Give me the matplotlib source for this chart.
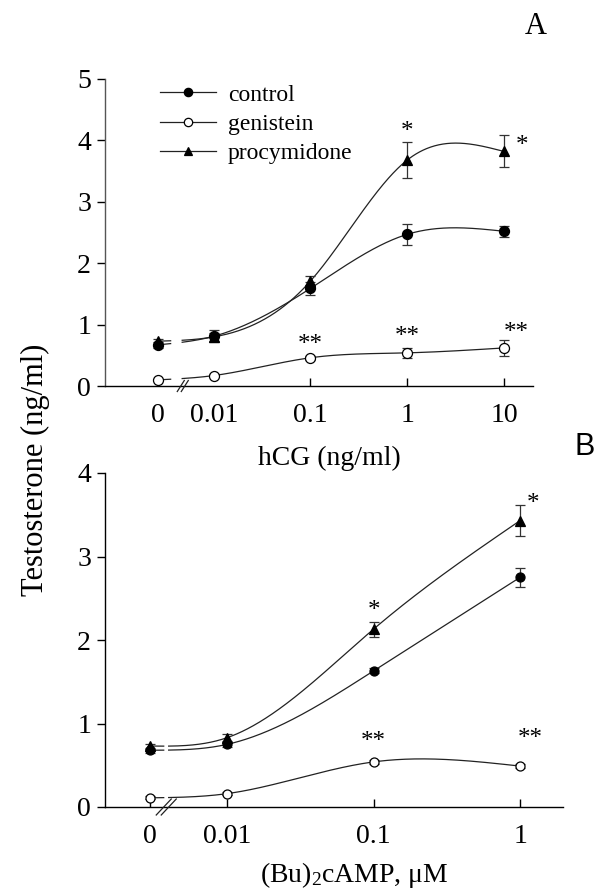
import numpy as np
import matplotlib
matplotlib.use("Agg")
import matplotlib.pyplot as plt
from matplotlib.lines import Line2D

plt.rcParams['font.family'] = ['Liberation Serif', 'DejaVu Serif']
plt.rcParams['mathtext.fontset'] = 'custom'
plt.rcParams['mathtext.rm'] = 'Liberation Serif'
plt.rcParams['mathtext.it'] = 'Liberation Serif:italic'

# ---------------- data ----------------
series_names = ['control', 'genistein', 'procymidone']

doses_A = [0, 0.01, 0.1, 1, 10]
ticklabels_A = ['0', '0.01', '0.1', '1', '10']
control_A = [0.67, 0.81, 1.59, 2.47, 2.52]
control_A_err = [0.05, 0.10, 0.10, 0.17, 0.09]
genistein_A = [0.10, 0.17, 0.46, 0.54, 0.62]
genistein_A_err = [0.02, 0.03, 0.03, 0.08, 0.13]
procymidone_A = [0.73, 0.80, 1.71, 3.68, 3.82]
procymidone_A_err = [0.04, 0.06, 0.08, 0.29, 0.26]

doses_B = [0, 0.01, 0.1, 1]
ticklabels_B = ['0', '0.01', '0.1', '1']
control_B = [0.68, 0.75, 1.63, 2.75]
control_B_err = [0.03, 0.03, 0.03, 0.11]
genistein_B = [0.11, 0.16, 0.54, 0.49]
genistein_B_err = [0.02, 0.02, 0.02, 0.02]
procymidone_B = [0.73, 0.83, 2.13, 3.43]
procymidone_B_err = [0.03, 0.04, 0.09, 0.19]

# significance marks: (text, dose, series)
stars_A = [('*', 1, 'procymidone'), ('*', 10, 'procymidone'),
           ('**', 0.1, 'genistein'), ('**', 1, 'genistein'), ('**', 10, 'genistein')]
stars_B = [('*', 0.1, 'procymidone'), ('*', 1, 'procymidone'),
           ('**', 0.1, 'genistein'), ('**', 1, 'genistein')]

# ---------------- helpers ----------------
def positions(doses, zero_pos):
    d = np.asarray(doses, dtype=float)
    p = np.full(d.shape, zero_pos)
    nz = d > 0
    p[nz] = np.log10(d[nz])
    return p


def natural_spline(x, y, xs):
    x = np.asarray(x, float); y = np.asarray(y, float)
    n = len(x)
    h = np.diff(x)
    A = np.zeros((n, n)); b = np.zeros(n)
    A[0, 0] = 1; A[-1, -1] = 1
    for i in range(1, n - 1):
        A[i, i - 1] = h[i - 1]
        A[i, i] = 2 * (h[i - 1] + h[i])
        A[i, i + 1] = h[i]
        b[i] = 3 * ((y[i + 1] - y[i]) / h[i] - (y[i] - y[i - 1]) / h[i - 1])
    c = np.linalg.solve(A, b)
    bb = np.zeros(n - 1); d = np.zeros(n - 1)
    for i in range(n - 1):
        bb[i] = (y[i + 1] - y[i]) / h[i] - h[i] * (2 * c[i] + c[i + 1]) / 3
        d[i] = (c[i + 1] - c[i]) / (3 * h[i])
    idx = np.clip(np.searchsorted(x, xs) - 1, 0, n - 2)
    t = xs - x[idx]
    return y[idx] + bb[idx] * t + c[idx] * t ** 2 + d[idx] * t ** 3


styles = {
    'control': dict(marker='o', mfc='black', mec='black'),
    'genistein': dict(marker='o', mfc='white', mec='black'),
    'procymidone': dict(marker='^', mfc='black', mec='black'),
}


def draw_panel(ax, doses, data, zero_pos, gap, xlim, ylim, msize, brk, brk_w, brk_h, brk_sep):
    pos = positions(doses, zero_pos)
    xs = np.linspace(pos[0], pos[-1], 600)
    for name in series_names:
        y, err = data[name]
        ys = natural_spline(pos, y, xs)
        ys = np.where((xs > gap[0]) & (xs < gap[1]), np.nan, ys)
        ax.plot(xs, ys, color='#222222', lw=0.9, zorder=2)
    for name in series_names:
        y, err = data[name]
        ax.errorbar(pos, y, yerr=err, fmt='none', ecolor='#333333', elinewidth=0.9,
                    capsize=3.5, capthick=0.9, zorder=3)
        ax.plot(pos, y, linestyle='none', ms=msize, mew=0.9, zorder=4, **styles[name])
    ax.set_xlim(*xlim)
    ax.set_ylim(*ylim)
    # axis break marks
    bbox = ax.get_window_extent()
    ppx = (xlim[1] - xlim[0]) / bbox.width
    ppy = (ylim[1] - ylim[0]) / bbox.height
    for k in (-0.5, 0.5):
        cx = brk + k * brk_sep * ppx
        ax.plot([cx - brk_w / 2 * ppx, cx + brk_w / 2 * ppx],
                [ylim[0] - brk_h / 2 * ppy, ylim[0] + brk_h / 2 * ppy],
                color='#222222', lw=0.9, clip_on=False, zorder=5)
    return pos


def draw_stars(ax, stars, doses, pos, data, offsets):
    lookup = dict(zip(doses, range(len(doses))))
    for (txt, dose, name), (dx, dy) in zip(stars, offsets):
        i = lookup[dose]
        y, err = data[name]
        ax.text(pos[i] + dx, y[i] + err[i] + dy, txt, ha='center', va='center', fontsize=18)


fig = plt.figure(figsize=(6.03, 8.91), dpi=100)
W, H = 603, 891

# ---------------- panel A ----------------
axA = fig.add_axes([105 / W, 1 - 386 / H, (533 - 105) / W, (386 - 79) / H])
dataA = {'control': (control_A, control_A_err),
         'genistein': (genistein_A, genistein_A_err),
         'procymidone': (procymidone_A, procymidone_A_err)}
posA = draw_panel(axA, doses_A, dataA, -2.577, (-2.445, -2.33), (-3.124, 1.30), (0, 5), 7.2,
                  -2.32, 7, 11, 4)
axA.set_xticks(posA)
axA.set_xticklabels(ticklabels_A)
axA.set_yticks(range(0, 6))
for t in axA.xaxis.get_major_ticks()[:2]:
    t.tick1line.set_visible(False)
draw_stars(axA, stars_A, doses_A, posA, dataA,
           [(0, 0.17), (0.19, -0.165), (0, 0.18), (0, 0.18), (0.13, 0.12)])

handles = [Line2D([], [], color='#222222', lw=0.9, ms=6, mew=0.9, **styles[n]) for n in series_names]
axA.legend(handles, series_names, loc='upper left', bbox_to_anchor=(0.078, 1.053),
           frameon=False, fontsize=17, handlelength=2.4, handletextpad=0.5,
           labelspacing=0.33)
axA.set_xlabel('hCG (ng/ml)', fontsize=20)
axA.xaxis.set_label_coords(0.525, -0.195)
axA.xaxis.label.set_va('top')

# ---------------- panel B ----------------
axB = fig.add_axes([105 / W, 1 - 807 / H, (563 - 105) / W, (807 - 473) / H])
dataB = {'control': (control_B, control_B_err),
         'genistein': (genistein_B, genistein_B_err),
         'procymidone': (procymidone_B, procymidone_B_err)}
posB = draw_panel(axB, doses_B, dataB, -2.525, (-2.43, -2.40), (-2.833, 0.293), (0, 4), 6.5,
                  -2.415, 15, 16, 5)
axB.set_xticks(posB)
axB.set_xticklabels(ticklabels_B)
axB.set_yticks(range(0, 5))
draw_stars(axB, stars_B, doses_B, posB, dataB,
           [(0, 0.125), (0.087, 0.01), (0, 0.22), (0.07, 0.31)])

axB.set_xlabel(r'(Bu)$_{\mathrm{2}}$cAMP, μM', fontsize=20)
axB.xaxis.set_label_coords(0.544, -0.248)
axB.xaxis.label.set_va('bottom')

for ax, ycol in ((axA, '#555555'), (axB, 'black')):
    for s in ('top', 'right'):
        ax.spines[s].set_visible(False)
    ax.spines['left'].set_color(ycol)
    ax.spines['left'].set_linewidth(1.0)
    ax.spines['bottom'].set_linewidth(1.0)
    ax.tick_params(axis='x', direction='in', length=6, width=1.0, pad=12, labelsize=20)
    ax.tick_params(axis='y', direction='out', length=6, width=1.0, pad=4, labelsize=20)

fig.text(35 / W, 1 - 470 / H, 'Testosterone (ng/ml)', rotation=90, ha='center', va='center',
         fontsize=22)
fig.text(536 / W, 1 - 27 / H, 'A', ha='center', va='center', fontsize=22)
fig.text(585 / W, 1 - 447 / H, 'B', ha='center', va='center', fontsize=22,
         family=['Liberation Sans', 'DejaVu Sans'])

fig.savefig('out.png', dpi=100)
